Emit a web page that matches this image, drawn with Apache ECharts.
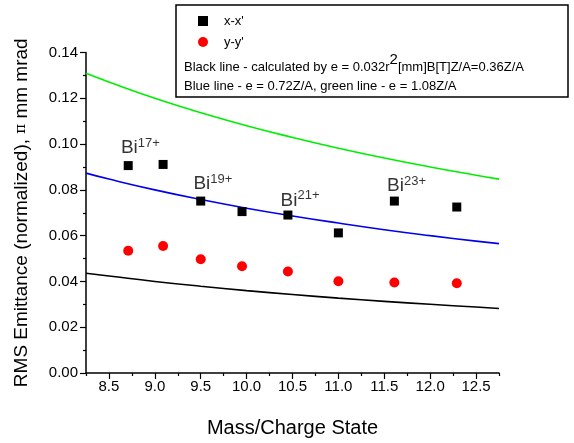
<!DOCTYPE html>
<html><head><meta charset="utf-8">
<script src="https://cdn.jsdelivr.net/npm/echarts@6/dist/echarts.min.js"></script>
<style>html,body{margin:0;padding:0;background:#fff}#c{width:574px;height:443px}</style>
</head><body><div id="c"></div>
<script>
// measured points (Mass/Charge, emittance)
const xxMass = [8.71, 9.09, 9.50, 9.95, 10.45, 11.00, 11.61, 12.29];
const xxEmit = [0.0906, 0.0911, 0.0751, 0.0705, 0.0690, 0.0612, 0.0751, 0.0725];
const yyMass = [8.71, 9.09, 9.50, 9.95, 10.45, 11.00, 11.61, 12.29];
const yyEmit = [0.0534, 0.0555, 0.0497, 0.0466, 0.0443, 0.0401, 0.0395, 0.0392];
// curves
const curveX = [8.25, 8.5, 9.0, 9.5, 10.0, 10.5, 11.0, 11.5, 12.0, 12.5, 12.75];
const blackLine = [0.0436, 0.0424, 0.0400, 0.0379, 0.0360, 0.0343, 0.0327, 0.0313, 0.0300, 0.0288, 0.0282];
const blueLine  = [0.0873, 0.0847, 0.0800, 0.0758, 0.0720, 0.0686, 0.0655, 0.0626, 0.0600, 0.0576, 0.0565];
const greenLine = [0.1309, 0.1271, 0.1200, 0.1137, 0.1080, 0.1029, 0.0982, 0.0939, 0.0900, 0.0864, 0.0847];
// ion annotations
const ionNames = ['17+', '19+', '21+', '23+'];
const ionX = [8.63, 9.42, 10.37, 11.53];
const ionY = [0.0935, 0.0778, 0.0706, 0.0770];
// ticks
const xTickLabels = [8.5, 9.0, 9.5, 10.0, 10.5, 11.0, 11.5, 12.0, 12.5];
const xMinorTicks = [8.25, 8.75, 9.25, 9.75, 10.25, 10.75, 11.25, 11.75, 12.25, 12.75];

const F = '"Liberation Sans", Arial, sans-serif';
const pair = (xs, ys) => xs.map((x, i) => [x, ys[i]]);

const chart = echarts.init(document.getElementById('c'), null, {renderer: 'canvas'});
chart.setOption({
  animation: false,
  backgroundColor: '#fff',
  grid: {left: 86, right: 75, top: 52.5, bottom: 60, containLabel: false},
  xAxis: [{
    type: 'value', min: 8.25, max: 12.75, interval: 0.25,
    axisLine: {show: true, onZero: false, lineStyle: {color: '#000', width: 1.5}},
    axisTick: {show: true, length: 3, customValues: xMinorTicks, lineStyle: {color: '#000', width: 1.2}},
    axisLabel: {show: false},
    splitLine: {show: false},
    name: 'Mass/Charge State', nameLocation: 'middle', nameGap: 45,
    nameTextStyle: {fontFamily: F, fontSize: 20, color: '#000'}
  }, {
    type: 'value', min: 8.25, max: 12.75, interval: 0.25, position: 'bottom',
    axisLine: {show: false, onZero: false},
    axisTick: {show: true, length: 6, customValues: xTickLabels, lineStyle: {color: '#000', width: 1.2}},
    axisLabel: {show: true, customValues: xTickLabels, fontFamily: F, fontSize: 15, color: '#000', margin: 6,
      formatter: v => v.toFixed(1)},
    splitLine: {show: false}
  }],
  yAxis: {
    type: 'value', min: 0, max: 0.14, interval: 0.02,
    axisLine: {show: true, lineStyle: {color: '#000', width: 1.5}},
    axisTick: {show: true, length: 6, lineStyle: {color: '#000', width: 1.2}},
    minorTick: {show: true, splitNumber: 2, length: 3, lineStyle: {color: '#000', width: 1.2}},
    axisLabel: {fontFamily: F, fontSize: 15, color: '#000', margin: 8, formatter: v => v.toFixed(2)},
    splitLine: {show: false},
    name: 'RMS Emittance (normalized), {p|π} mm mrad', nameLocation: 'middle', nameGap: 55, nameRotate: 90,
    nameTextStyle: {fontFamily: F, fontSize: 19, color: '#000',
      rich: {p: {fontFamily: '"DejaVu Serif", serif', fontSize: 15, color: '#000'}}}
  },
  legend: {
    orient: 'vertical', left: 193, top: 9, itemGap: 7, itemWidth: 10, itemHeight: 10,
    data: [{name: 'x-x\'', icon: 'rect'}, {name: 'y-y\'', icon: 'circle'}],
    textStyle: {fontFamily: F, fontSize: 13, color: '#000', lineHeight: 14, padding: [0, 0, 0, 11]},
    selectedMode: false
  },
  graphic: [
    {type: 'rect', shape: {x: 176, y: 5, width: 392, height: 92}, style: {fill: 'none', stroke: '#000', lineWidth: 1.5}, z: 10},
    {type: 'text', x: 184, y: 52, style: {text: '{t|Black line - calculated by e = 0.032r}{s|2}{t|[mm]B[T]Z/A=0.36Z/A}', fontFamily: F, fontSize: 13, fill: '#000',
      rich: {t: {fontFamily: F, fontSize: 13, fill: '#000', lineHeight: 22, verticalAlign: 'bottom'},
             s: {fontFamily: F, fontSize: 15, fill: '#000', lineHeight: 13, verticalAlign: 'top'}}}, z: 10},
    {type: 'text', x: 184, y: 80, style: {text: 'Blue line - e = 0.72Z/A, green line - e = 1.08Z/A', fontFamily: F, fontSize: 13, fill: '#000'}, z: 10}
  ],
  series: [
    {type: 'line', name: 'green', data: pair(curveX, greenLine), smooth: true, showSymbol: false, lineStyle: {color: '#00ee00', width: 1.6}, z: 2},
    {type: 'line', name: 'blue', data: pair(curveX, blueLine), smooth: true, showSymbol: false, lineStyle: {color: '#0000ee', width: 1.6}, z: 2},
    {type: 'line', name: 'black', data: pair(curveX, blackLine), smooth: true, showSymbol: false, lineStyle: {color: '#000', width: 1.6}, z: 2},
    {type: 'scatter', name: 'x-x\'', data: pair(xxMass, xxEmit), symbol: 'rect', symbolSize: 9, itemStyle: {color: '#000', opacity: 1}, z: 3},
    {type: 'scatter', name: 'y-y\'', data: pair(yyMass, yyEmit), symbol: 'circle', symbolSize: 10, itemStyle: {color: '#ff0000', opacity: 1}, z: 3},
    {type: 'scatter', name: 'ions', data: pair(ionX, ionY), symbolSize: 0, silent: true,
      label: {show: true, position: [0, 0], align: 'left', verticalAlign: 'bottom',
        formatter: p => '{b|Bi}{s|' + ionNames[p.dataIndex] + '}',
        rich: {b: {fontFamily: F, fontSize: 19, color: '#000', lineHeight: 22},
               s: {fontFamily: F, fontSize: 13, color: '#000', verticalAlign: 'top', lineHeight: 22, padding: [0, 0, 10, 0]}}}, z: 4}
  ]
});
</script></body></html>
